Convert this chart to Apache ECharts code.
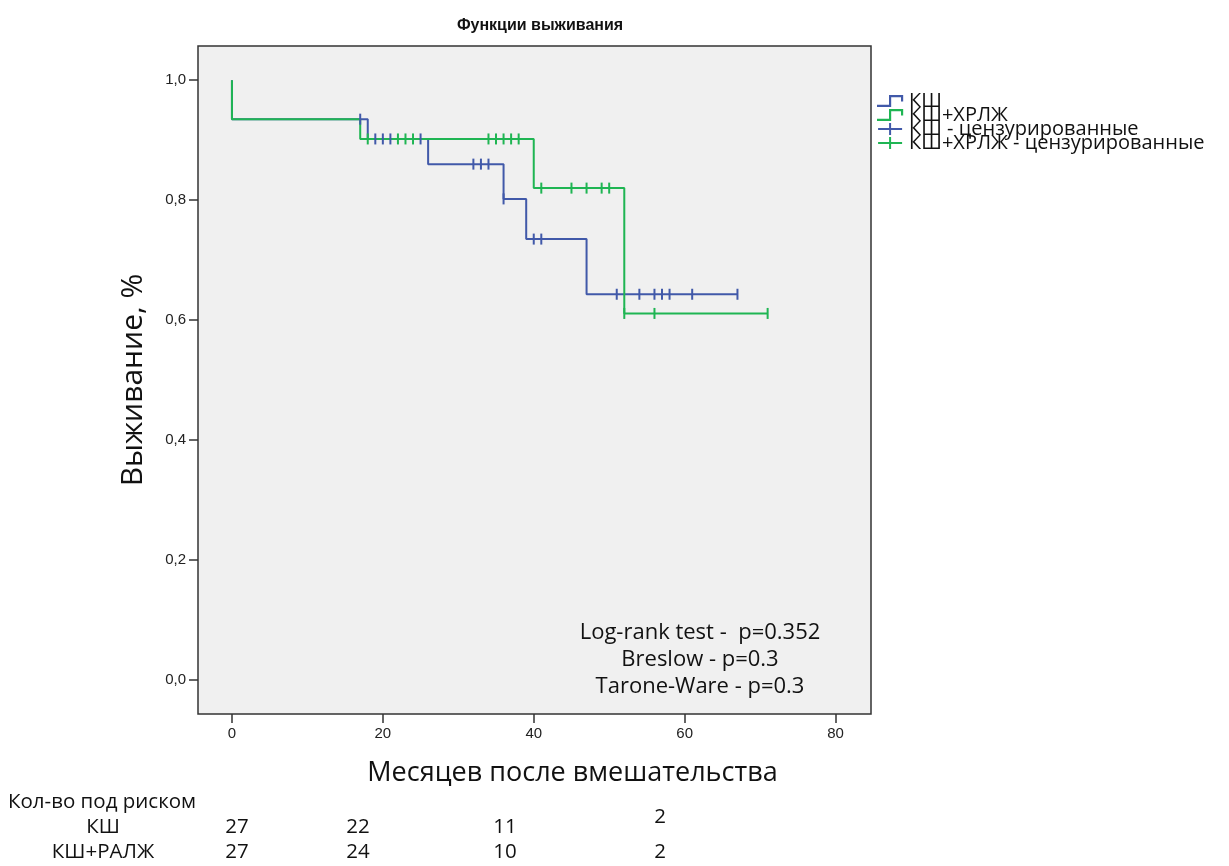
<!DOCTYPE html>
<html>
<head>
<meta charset="utf-8">
<script src="https://cdn.jsdelivr.net/npm/echarts@6/dist/echarts.min.js"></script>
<style>
html,body{margin:0;padding:0;background:#fff;}
#chart{width:1229px;height:866px;}
</style>
</head>
<body>
<div id="chart"></div>
<script>
// ---- data ----
const xTicks = [0, 20, 40, 60, 80];
const yTicks = [0, 0.2, 0.4, 0.6, 0.8, 1.0];

const ksTimes = [0, 0, 18, 26, 36, 39, 47, 67];
const ksSurv  = [1.0, 0.935, 0.902, 0.86, 0.802, 0.735, 0.643, 0.643];
const ksCens  = [17, 19, 20, 21, 25, 32, 33, 34, 36, 40, 41, 51, 54, 56, 57, 58, 61, 67];

const khTimes = [0, 0, 17, 40, 52, 71];
const khSurv  = [1.0, 0.935, 0.902, 0.82, 0.611, 0.611];
const khCens  = [18, 22, 23, 24, 34, 35, 36, 37, 38, 41, 45, 47, 49, 50, 52, 56, 71];

const seriesNames = ['КШ', 'КШ+ХРЛЖ', 'КШ - цензурированные', 'КШ+ХРЛЖ - цензурированные'];
const tests = ['Log-rank test -  p=0.352', 'Breslow - p=0.3', 'Tarone-Ware - p=0.3'];

const riskTitle = 'Кол-во под риском';
const riskRows = ['КШ', 'КШ+РАЛЖ'];
const riskKS = [27, 22, 11, 2];
const riskKH = [27, 24, 10, 2];

// ---- build ----
const BLUE = '#4159a9';
const GREEN = '#1fb553';
function survAt(times, surv, t) {
  let s = surv[0];
  for (let i = 0; i < times.length; i++) if (times[i] <= t) s = surv[i];
  return s;
}
const pairs = (a, b) => a.map((v, i) => [v, b[i]]);

const stepIcon = 'path://M0,9 L11,9 L11,0 L24,0 L24,6 L22,6 L22,2 L13,2 L13,11 L0,11 Z';
const crossIcon = 'path://M0,5 L11,5 L11,0 L13,0 L13,5 L24,5 L24,7 L13,7 L13,12 L11,12 L11,7 L0,7 Z';

const FONT = "'Open Sans', 'Noto Sans', sans-serif";
const ARIAL = "'Liberation Sans', Arial, sans-serif";
const chart = echarts.init(document.getElementById('chart'), null, {renderer: 'canvas'});

const riskCols = [237, 358, 505, 660];
const graphics = [];
tests.forEach((t, i) => graphics.push({
  type: 'text', x: 700, y: 633 + i * 27,
  style: {text: t, font: "22px " + FONT, fill: '#111', textAlign: 'center', textVerticalAlign: 'middle'}
}));
graphics.push({type: 'text', x: 8, y: 802, style: {text: riskTitle, font: "20.5px " + FONT, fill: '#111', textAlign: 'left', textVerticalAlign: 'middle'}});
riskRows.forEach((r, i) => graphics.push({
  type: 'text', x: 103, y: 827 + i * 25,
  style: {text: r, font: "20.5px " + FONT, fill: '#111', textAlign: 'center', textVerticalAlign: 'middle'}
}));
[riskKS, riskKH].forEach((row, ri) => row.forEach((v, ci) => graphics.push({
  type: 'text', x: riskCols[ci], y: (ri === 0 && ci === 3 ? 817 : 827 + ri * 25),
  style: {text: String(v), font: "20.5px " + FONT, fill: '#111', textAlign: 'center', textVerticalAlign: 'middle'}
})));

chart.setOption({
  animation: false,
  backgroundColor: '#ffffff',
  title: {
    text: 'Функции выживания', left: 535, top: 13, textAlign: 'center',
    textStyle: {fontFamily: ARIAL, fontWeight: 'bold', fontSize: 16, color: '#111'}
  },
  grid: {
    left: 198, top: 46, width: 673, height: 668,
    show: true, backgroundColor: '#f0f0f0', borderColor: '#333', borderWidth: 1.5
  },
  legend: {
    orient: 'vertical', left: 872, top: 86, itemGap: -6, itemWidth: 28, itemHeight: 12,
    textStyle: {fontFamily: FONT, fontSize: 20, color: '#111'},
    data: [
      {name: seriesNames[0], icon: stepIcon},
      {name: seriesNames[1], icon: stepIcon},
      {name: seriesNames[2], icon: crossIcon},
      {name: seriesNames[3], icon: crossIcon}
    ]
  },
  xAxis: {
    type: 'value', min: -4.5, max: 84.7,
    name: 'Месяцев после вмешательства', nameLocation: 'middle', nameGap: 46,
    nameTextStyle: {fontFamily: FONT, fontSize: 27, color: '#111', padding: [0, 0, 0, 76]},
    axisLine: {show: false, onZero: false},
    splitLine: {show: false},
    axisTick: {show: true, customValues: xTicks, length: 9, lineStyle: {color: '#333', width: 1.5}},
    axisLabel: {customValues: xTicks, margin: 12, fontFamily: ARIAL, fontSize: 15, color: '#222'}
  },
  yAxis: {
    type: 'value', min: -0.057, max: 1.057,
    name: 'Выживание, %', nameLocation: 'middle', nameGap: 50,
    nameTextStyle: {fontFamily: FONT, fontSize: 30, color: '#111'},
    axisLine: {show: false, onZero: false},
    splitLine: {show: false},
    axisTick: {show: true, customValues: yTicks, length: 9, lineStyle: {color: '#333', width: 1.5}},
    axisLabel: {customValues: yTicks, margin: 12, fontFamily: ARIAL, fontSize: 15, color: '#222',
      formatter: v => v.toFixed(1).replace('.', ',')}
  },
  series: [
    {name: seriesNames[0], type: 'line', step: 'end', showSymbol: false, data: pairs(ksTimes, ksSurv),
      lineStyle: {color: BLUE, width: 2}, itemStyle: {color: BLUE}, z: 2},
    {name: seriesNames[1], type: 'line', step: 'end', showSymbol: false, data: pairs(khTimes, khSurv),
      lineStyle: {color: GREEN, width: 2}, itemStyle: {color: GREEN}, z: 3},
    {name: seriesNames[2], type: 'scatter', symbol: 'rect', symbolSize: [2, 11],
      data: ksCens.map(t => [t, survAt(ksTimes, ksSurv, t)]), itemStyle: {color: BLUE, opacity: 1}, z: 4},
    {name: seriesNames[3], type: 'scatter', symbol: 'rect', symbolSize: [2, 11],
      data: khCens.map(t => [t, survAt(khTimes, khSurv, t)]), itemStyle: {color: GREEN, opacity: 1}, z: 5}
  ],
  graphic: graphics
});
</script>
</body>
</html>
